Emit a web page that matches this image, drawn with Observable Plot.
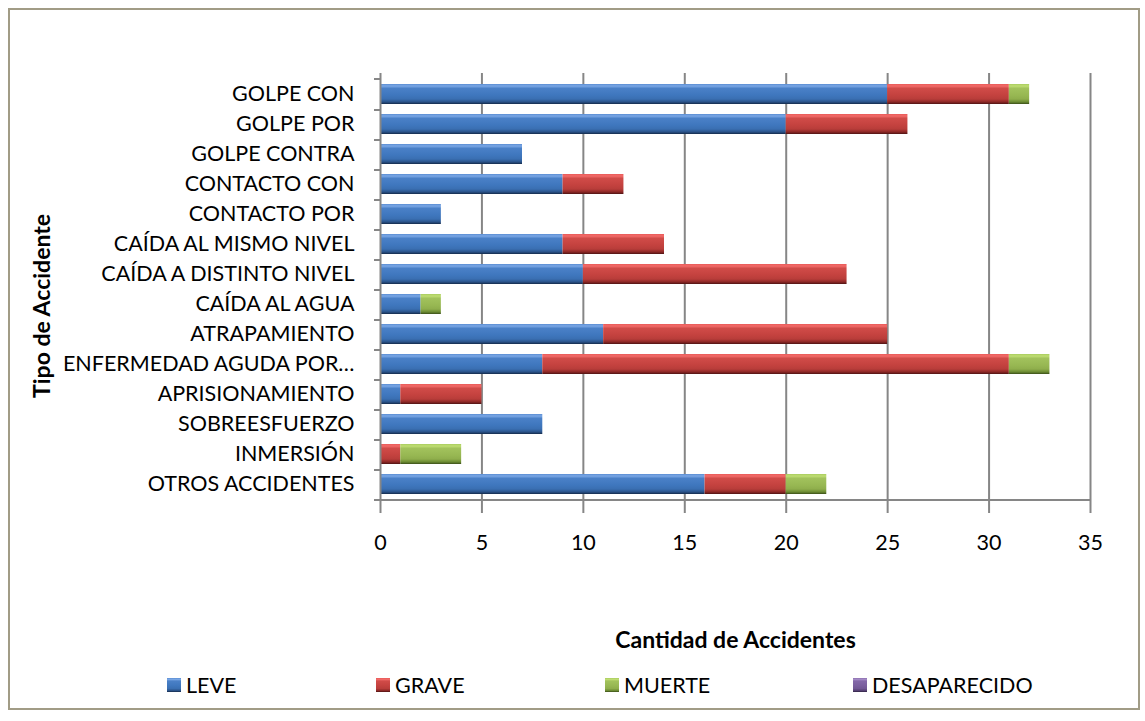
<!DOCTYPE html>
<html>
<head>
<meta charset="utf-8">
<script src="https://cdn.jsdelivr.net/npm/d3@7"></script>
<script src="https://cdn.jsdelivr.net/npm/@observablehq/plot@0.6"></script>
<style>
  html, body { margin: 0; padding: 0; background: #fff; }
  #wrap { position: relative; width: 1145px; height: 721px; overflow: hidden; font-family: Lato, "Open Sans", sans-serif; }
  #border { position: absolute; left: 8px; top: 8px; width: 1132px; height: 702px; border: 2.5px solid #a19c86; box-sizing: border-box; }
  #chart { position: absolute; left: 0; top: 0; }
  .leg { position: absolute; top: 672px; height: 26px; display: flex; align-items: center; font-size: 21.5px; color: #000; font-family: Lato, sans-serif; }
  .sw { width: 14px; height: 14px; margin-right: 5px; box-sizing: border-box; }
</style>
</head>
<body>
<div id="wrap">
  <div id="border"></div>
  <div id="chart"></div>
</div>
<script>
const categories = [
  "GOLPE CON", "GOLPE POR", "GOLPE CONTRA", "CONTACTO CON", "CONTACTO POR",
  "CAÍDA AL MISMO NIVEL", "CAÍDA A DISTINTO NIVEL", "CAÍDA AL AGUA", "ATRAPAMIENTO",
  "ENFERMEDAD AGUDA POR…", "APRISIONAMIENTO", "SOBREESFUERZO", "INMERSIÓN", "OTROS ACCIDENTES"
];
const leve =         [25, 20, 7, 9, 3, 9, 10, 2, 11, 8, 1, 8, 0, 16];
const grave =        [ 6,  6, 0, 3, 0, 5, 13, 0, 14, 23, 4, 0, 1, 4];
const muerte =       [ 1,  0, 0, 0, 0, 0,  0, 1,  0, 2, 0, 0, 3, 2];
const desaparecido = [ 0,  0, 0, 0, 0, 0,  0, 0,  0, 0, 0, 0, 0, 0];
const seriesNames = ["LEVE", "GRAVE", "MUERTE", "DESAPARECIDO"];
const xTicks = [0, 5, 10, 15, 20, 25, 30, 35];

// gradient stops per series (top -> bottom)
const gradStops = {
  LEVE:         ["#5a8dd2", "#7ba8e6", "#4a80c7", "#3f77be", "#3a6fb2", "#2a5288", "#142a4a"],
  GRAVE:        ["#e85a58", "#f26b69", "#d04b48", "#c4423f", "#b83d3a", "#8c2826", "#4e1312"],
  MUERTE:       ["#a9cc5e", "#c0de73", "#a2c25c", "#98b853", "#8fae4c", "#6b8a32", "#3a4e17"],
  DESAPARECIDO: ["#8d70b0", "#a48ac6", "#8368a8", "#7a5f9e", "#715894", "#553f73", "#2f2342"]
};
const stopOffsets = [0, 0.1, 0.22, 0.55, 0.75, 0.9, 1];

const data = [];
categories.forEach((c, i) => {
  const vals = [leve[i], grave[i], muerte[i], desaparecido[i]];
  seriesNames.forEach((s, j) => data.push({cat: c, series: s, value: vals[j]}));
});

const gid = s => "grad-" + s;
const gray = "#868686";

const chart = Plot.plot({
  width: 1145,
  height: 721,
  marginTop: 73,
  marginBottom: 215,
  marginLeft: 380,
  marginRight: 55,
  style: {fontFamily: "Lato, 'Open Sans', sans-serif", fontSize: "21.5px", color: "#000", background: "transparent"},
  x: {domain: [0, 35]},
  y: {domain: categories, paddingInner: 0.32, paddingOuter: 0.16},
  color: {type: "identity"},
  marks: [
    Plot.ruleX(xTicks.slice(1), {stroke: gray, strokeWidth: 2}),
    Plot.barX(data, Plot.stackX({
      y: "cat", x: "value", z: "series",
      fill: d => `url(#${gid(d.series)})`
    })),
    Plot.ruleX([0], {stroke: gray, strokeWidth: 2}),
    Plot.ruleY([categories[categories.length - 1]], {stroke: gray, strokeWidth: 2, dy: 15.5}),
    Plot.axisX(xTicks, {tickSize: 7, tickPadding: 21, stroke: gray, strokeWidth: 2, fill: "#000", fontSize: 21.5, label: null}),
    Plot.axisY({tickSize: 0, tickPadding: 26, fill: "#000", fontSize: 21.5, label: null}),
    Plot.axisY(categories, {tickSize: 6, dy: 15.5, stroke: gray, strokeWidth: 2, tickFormat: () => "", label: null}),
    Plot.axisY([categories[0]], {tickSize: 6, dy: -15.5, stroke: gray, strokeWidth: 2, tickFormat: () => "", label: null}),
    Plot.text(["Cantidad de Accidentes"], {frameAnchor: "bottom", dy: 141, fontWeight: "bold", fontSize: 23, fill: "#000"}),
    Plot.text(["Tipo de Accidente"], {frameAnchor: "left", textAnchor: "middle", dx: -338, dy: 16, rotate: -90, fontWeight: "bold", fontSize: 23, fill: "#000"})
  ]
});

// gradient defs
const ns = "http://www.w3.org/2000/svg";
const defs = document.createElementNS(ns, "defs");
seriesNames.forEach(s => {
  const lg = document.createElementNS(ns, "linearGradient");
  lg.setAttribute("id", gid(s));
  lg.setAttribute("x1", "0"); lg.setAttribute("y1", "0");
  lg.setAttribute("x2", "0"); lg.setAttribute("y2", "1");
  gradStops[s].forEach((col, k) => {
    const st = document.createElementNS(ns, "stop");
    st.setAttribute("offset", stopOffsets[k]);
    st.setAttribute("stop-color", col);
    lg.appendChild(st);
  });
  defs.appendChild(lg);
});
chart.insertBefore(defs, chart.firstChild);
document.getElementById("chart").appendChild(chart);

// legend
const legendX = [167, 376, 605, 853];
const wrap = document.getElementById("wrap");
seriesNames.forEach((s, i) => {
  const item = document.createElement("div");
  item.className = "leg";
  item.style.left = legendX[i] + "px";
  const sw = document.createElement("div");
  sw.className = "sw";
  sw.style.background = `linear-gradient(to bottom, ${gradStops[s].map((c, k) => c + " " + (stopOffsets[k] * 100) + "%").join(", ")})`;
  const lab = document.createElement("span");
  lab.textContent = s;
  item.appendChild(sw);
  item.appendChild(lab);
  wrap.appendChild(item);
});
</script>
</body>
</html>
